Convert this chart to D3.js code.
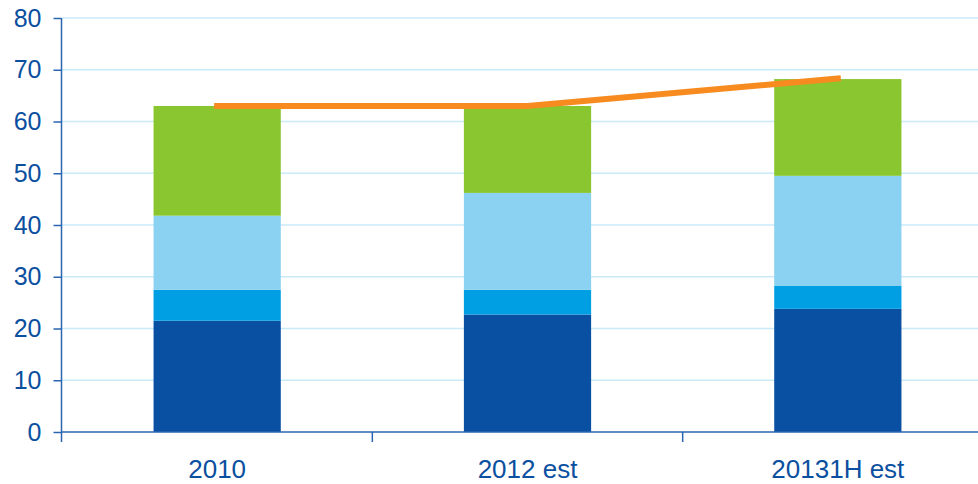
<!DOCTYPE html>
<html>
<head>
<meta charset="utf-8">
<script src="https://cdn.jsdelivr.net/npm/d3@7/dist/d3.min.js"></script>
<style>
  html, body { margin: 0; padding: 0; background: #fff; }
  svg { display: block; }
  text { font-family: "Liberation Sans", Arial, sans-serif; fill: #0b4fa0; }
</style>
</head>
<body>
<svg id="chart" width="978" height="484"></svg>
<script>
const categories = ["2010", "2012 est", "20131H est"];
const seriesA = [21.5, 22.7, 23.8];   // dark blue (bottom)
const seriesB = [6.0, 4.8, 4.5];      // medium blue
const seriesC = [14.3, 18.7, 21.2];   // light blue
const seriesD = [21.2, 16.8, 18.7];   // green (top)
const lineValues = [63.0, 63.0, 68.3];
const yTicks = [0, 10, 20, 30, 40, 50, 60, 70, 80];

const seriesKeys = ["a", "b", "c", "d"];
const colors = { a: "#0a50a2", b: "#009fe3", c: "#8ad1f2", d: "#8ac630" };
const rows = categories.map((c, i) => ({ cat: c, a: seriesA[i], b: seriesB[i], c: seriesC[i], d: seriesD[i] }));

const svg = d3.select("#chart");
const x0 = 62, x1 = 993;
const yTop = 18, yBottom = 432;

const x = d3.scaleBand().domain(categories).range([x0, x1]).paddingInner(0.59).paddingOuter(0.295);
const xTick = d3.scaleBand().domain(categories).range([x0, x1]);
const y = d3.scaleLinear().domain([0, 80]).range([yBottom, yTop]);

// gridlines
svg.append("g").selectAll("line").data(yTicks.filter(t => t > 0)).join("line")
  .attr("x1", x0).attr("x2", 978)
  .attr("y1", d => y(d)).attr("y2", d => y(d))
  .attr("stroke", "#c9eaf9").attr("stroke-width", 1.5);

// stacked bars
const stack = d3.stack().keys(seriesKeys)(rows);
svg.append("g").selectAll("g").data(stack).join("g")
  .attr("fill", d => colors[d.key])
  .selectAll("rect").data(d => d).join("rect")
  .attr("x", d => x(d.data.cat))
  .attr("width", x.bandwidth())
  .attr("y", d => y(d[1]))
  .attr("height", d => y(d[0]) - y(d[1]));

// line
const line = d3.line().x((d, i) => x(categories[i]) + x.bandwidth() / 2).y(d => y(d));
svg.append("path").datum(lineValues)
  .attr("d", line).attr("fill", "none")
  .attr("stroke", "#f78b1f").attr("stroke-width", 6)
  .attr("stroke-linecap", "square");

const axisColor = "#2a66b0";

// y axis
const yAxis = svg.append("g").attr("transform", `translate(${x0 - 0.5},0)`)
  .call(d3.axisLeft(y).tickValues(yTicks).tickSize(8).tickPadding(12));
yAxis.select(".domain").remove();
yAxis.selectAll(".tick line").attr("stroke", axisColor).attr("stroke-width", 1.5);
yAxis.selectAll("text").attr("font-size", "25px").attr("fill", "#0b4fa0")
  .style("font-family", "'Liberation Sans', Arial, sans-serif");
svg.append("line").attr("x1", x0 - 0.5).attr("x2", x0 - 0.5).attr("y1", yTop).attr("y2", yBottom + 10)
  .attr("stroke", axisColor).attr("stroke-width", 1.5);

// x axis
svg.append("line").attr("x1", x0 - 0.5).attr("x2", 978).attr("y1", yBottom).attr("y2", yBottom)
  .attr("stroke", axisColor).attr("stroke-width", 1.5);
svg.append("g").selectAll("line").data(categories.slice(1)).join("line")
  .attr("x1", d => xTick(d)).attr("x2", d => xTick(d))
  .attr("y1", yBottom).attr("y2", yBottom + 10)
  .attr("stroke", axisColor).attr("stroke-width", 1.5);
svg.append("g").selectAll("text").data(categories).join("text")
  .attr("x", d => x(d) + x.bandwidth() / 2)
  .attr("y", 478)
  .attr("text-anchor", "middle")
  .attr("font-size", "26px")
  .text(d => d);
</script>
</body>
</html>
